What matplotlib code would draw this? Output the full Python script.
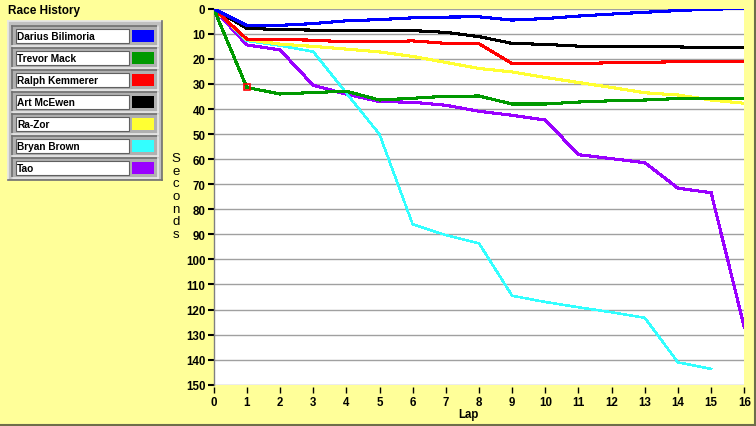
import numpy as np
import matplotlib
matplotlib.use('Agg')
from matplotlib import pyplot as plt
from matplotlib.patches import Rectangle

plt.rcParams['font.family'] = ['Liberation Sans', 'DejaVu Sans']

# lap times behind the leader (seconds)
laps = list(range(17))
darius = [0, 6.6, 6.6, 5.9, 4.8, 4.3, 3.6, 3.3, 3.2, 4.5, 3.9, 2.9, 2.1, 1.4, 0.7, 0.1, 0.0]
trevor = [0, 31.4, 34.0, 33.4, 32.9, 36.4, 35.7, 34.9, 34.8, 38.0, 38.0, 37.2, 36.7, 36.4, 35.8, 35.8, 35.8]
ralph = [0, 12.1, 12.3, 12.5, 13.2, 13.2, 12.8, 13.8, 13.9, 21.9, 21.9, 21.9, 21.5, 21.4, 21.1, 21.1, 21.1]
art = [0, 7.8, 8.3, 8.5, 8.7, 8.7, 8.7, 9.4, 11.1, 13.8, 14.2, 14.9, 15.2, 15.2, 15.2, 15.6, 15.6]
razor = [0, 12.3, 14.1, 15.0, 16.1, 17.2, 19.0, 21.4, 23.8, 25.2, 27.4, 29.4, 31.4, 33.5, 34.4, 36.4, 37.7]
bryan = [0, 12.8, 14.7, 17.1, 33.6, 50.1, 86.0, 90.3, 93.6, 114.5, 117.0, 119.1, 121.1, 123.3, 141.1, 143.7]
tao = [0, 14.4, 16.4, 30.5, 34.1, 37.0, 37.3, 38.5, 40.9, 42.5, 44.4, 58.2, 59.8, 61.4, 71.6, 73.4, 127.1]

names = ['Darius Bilimoria', 'Trevor Mack', 'Ralph Kemmerer', 'Art McEwen',
         'Ra-Zor', 'Bryan Brown', 'Tao']
series = [darius, trevor, ralph, art, razor, bryan, tao]
colors = ['#0000FF', '#009900', '#FF0000', '#000000', '#FFFF33', '#33FFFF', '#9900FF']

bg = '#FFFF99'
W, H = 756, 427
fig = plt.figure(figsize=(W / 100, H / 100), dpi=100, facecolor=bg)

# plot area in pixel coords
x0, x1, y0, y1 = 213.7, 744.3, 9.8, 385.7
ax = fig.add_axes([x0 / W, 1 - y1 / H, (x1 - x0) / W, (y1 - y0) / H])
ax.set_facecolor('white')

for i in range(len(series) - 1, -1, -1):
    s = series[i]
    lw = 1.1 if names[i] == 'Bryan Brown' else 1.5
    ax.plot(laps[:len(s)], s, color=colors[i], lw=lw, antialiased=False,
            solid_joinstyle='miter', zorder=3 + (len(series) - i) * 0.01)

# cursor marker on Trevor Mack lap 1
ax.plot(laps[1], trevor[1], marker='s', ms=5, mfc='none', mec='#FF0000', mew=1.2, zorder=5)

ax.set_xlim(0, 16)
ax.set_ylim(150, 0)
ax.set_xticks(range(0, 17))
ax.set_yticks(range(0, 151, 10))
ax.yaxis.grid(True, color='#A0A0A0', lw=1)
ax.set_axisbelow(True)

for sp in ['top', 'right']:
    ax.spines[sp].set_visible(False)
ax.spines['left'].set_color('#808080')
ax.spines['left'].set_linewidth(1)
ax.spines['bottom'].set_position(('outward', 2))
ax.spines['bottom'].set_visible(False)

ax.tick_params(axis='y', direction='out', length=4, width=1.5, color='black', pad=2)
ax.tick_params(axis='x', direction='out', length=4, width=1, color='black', pad=2)
for lab in ax.get_xticklabels() + ax.get_yticklabels():
    lab.set_fontsize(8.3)
    lab.set_fontweight('bold')

fig.text(468 / W, 1 - 415 / H, 'Lap', ha='center', va='center',
         fontsize=8.3, fontweight='bold')
fig.text(176 / W, 1 - 197 / H, 'S\ne\nc\no\nn\nd\ns', ha='center', va='center',
         fontsize=9.5, linespacing=1.08)
fig.text(8 / W, 1 - 11 / H, 'Race History', ha='left', va='center',
         fontsize=8.5, fontweight='bold')

# legend panel drawn in pixel space
lg = fig.add_axes([0, 0, 1, 1], zorder=-1)
lg.set_xlim(0, W)
lg.set_ylim(H, 0)
lg.axis('off')

def bevel(x, y, w, h, light='#E8E8E8', dark='#707070', face='#C0C0C0'):
    lg.add_patch(Rectangle((x, y), w, h, facecolor=face, edgecolor='none'))
    lg.plot([x, x + w], [y, y], color=light, lw=1.2)
    lg.plot([x, x], [y, y + h], color=light, lw=1.2)
    lg.plot([x, x + w], [y + h, y + h], color=dark, lw=1.2)
    lg.plot([x + w, x + w], [y, y + h], color=dark, lw=1.2)

bevel(8, 22, 154, 159)
for i, name in enumerate(names):
    top = 27 + 22 * i
    bevel(12, top, 146, 20, light='#707070', dark='#E8E8E8', face='#B0B0B0')
    lg.add_patch(Rectangle((16, top + 3), 113, 14, facecolor='white', edgecolor='#606060', lw=0.8))
    lg.add_patch(Rectangle((132, top + 4), 22, 12, facecolor=colors[i], edgecolor='none'))
    lg.text(17, top + 10.5, name, ha='left', va='center', fontsize=7.3, fontweight='bold')

# frame lines bottom and right
lg.plot([0, W], [H - 1, H - 1], color='#6E6E4A', lw=1.5)
lg.plot([W - 1, W - 1], [0, H], color='#6E6E4A', lw=1.5)

fig.savefig('out.png', dpi=100, facecolor=bg)
